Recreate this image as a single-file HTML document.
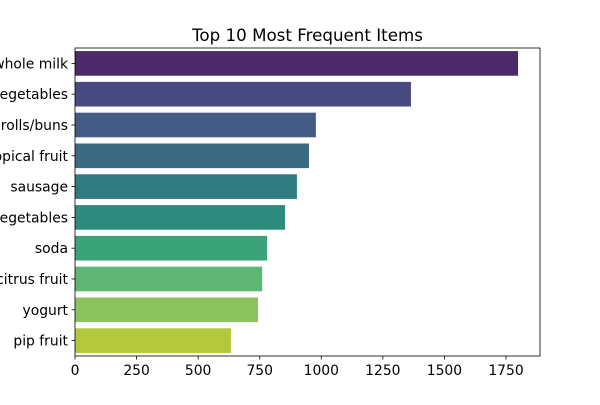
<!DOCTYPE html>
<html><head><meta charset="utf-8"><style>
body{margin:0;background:#fff}
svg text{font-family:"DejaVu Sans","Liberation Sans",sans-serif;fill:#000}
</style></head><body>
<svg id="chart" width="600" height="400" xmlns="http://www.w3.org/2000/svg">
<rect width="600" height="400" fill="#fff"/>
<text x="307.5" y="41" font-size="16.7" text-anchor="middle">Top 10 Most Frequent Items</text>
<g id="bars"></g>
<g id="axes"></g>
</svg>
<script>
const categories = ["whole milk","other vegetables","rolls/buns","tropical fruit","sausage","root vegetables","soda","citrus fruit","yogurt","pip fruit"];
const counts = [1799,1364,978,950,901,853,780,760,743,633];
const xTicks = [0,250,500,750,1000,1250,1500,1750];
const colors = ["#4a2a6b","#4a4a82","#435b85","#3a6b82","#2f7b80","#2d8c7e","#3aa37a","#5fb674","#8bc45e","#b3c83a"];
const L=75,R=540,T=48,B=356,XMAX=1888;
const NS="http://www.w3.org/2000/svg";
function x(v){return L+(v/XMAX)*(R-L);}
const band=(B-T)/categories.length;
function y(i){return T+i*band;}
const bars=document.getElementById('bars'), axes=document.getElementById('axes');
function mk(tag,attrs,parent){const e=document.createElementNS(NS,tag);for(const k in attrs)e.setAttribute(k,attrs[k]);parent.appendChild(e);return e;}
categories.forEach((c,i)=>{
  const r=mk('rect',{x:x(0),y:y(i)+band*0.1,width:x(counts[i])-x(0),height:band*0.8,fill:colors[i]},bars);
  
  
  const cy=y(i)+band/2;
  mk('line',{x1:L-3.5,x2:L,y1:cy,y2:cy,stroke:'#000','stroke-width':0.8},axes);
  const t=mk('text',{x:L-7,y:cy+5,'font-size':13.9,'text-anchor':'end'},axes);
  t.textContent=c;
  
  
});
xTicks.forEach(v=>{
  mk('line',{x1:x(v),x2:x(v),y1:B,y2:B+3.5,stroke:'#000','stroke-width':0.8},axes);
  const t=mk('text',{x:x(v),y:B+19,'font-size':13.9,'text-anchor':'middle'},axes);
  t.textContent=v;
  
  
});
const f=mk('rect',{x:L,y:T,width:R-L,height:B-T,fill:'none',stroke:'#000','stroke-width':0.8},axes);


</script>
</body></html>
